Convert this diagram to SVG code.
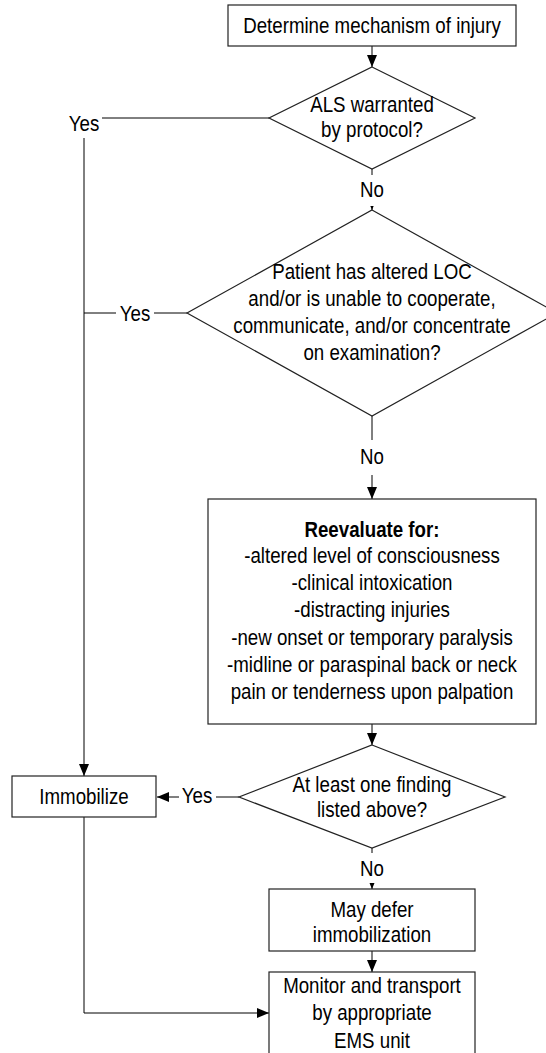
<svg xmlns="http://www.w3.org/2000/svg" width="546" height="1053" viewBox="0 0 546 1053">
<style>
text{font-family:"Liberation Sans",Arial,sans-serif;font-size:22px;fill:#000;text-anchor:middle}
.b{font-weight:bold}
.box{fill:#fff;stroke:#222;stroke-width:1.2}
.ln{fill:none;stroke:#000;stroke-width:1}
.bg{fill:#fff;stroke:none}
</style>
<defs>
<marker id="ah" markerUnits="userSpaceOnUse" markerWidth="12" markerHeight="10" refX="12" refY="5" orient="auto" viewBox="0 0 12 10">
<path d="M0,0 L12,5 L0,10 z" fill="#000"/>
</marker>
</defs>
<rect width="546" height="1053" fill="#fff"/>
<g id="connectors">
<path class="ln" d="M372,46 V67" marker-end="url(#ah)"/>
<path class="ln" d="M372,169 V210" marker-end="url(#ah)"/>
<path class="ln" d="M269,118 H84 V776" marker-end="url(#ah)"/>
<path class="ln" d="M187,313 H84"/>
<path class="ln" d="M372,416 V499" marker-end="url(#ah)"/>
<path class="ln" d="M372,724 V745" marker-end="url(#ah)"/>
<path class="ln" d="M239,797 H157" marker-end="url(#ah)"/>
<path class="ln" d="M372,848 V889" marker-end="url(#ah)"/>
<path class="ln" d="M372,951 V972" marker-end="url(#ah)"/>
<path class="ln" d="M84,817 V1013 H269" marker-end="url(#ah)"/>
<g id="lbl-no1"><rect class="bg" x="358" y="175" width="28" height="31"/><g transform="scale(0.85,1)"><text x="437.65" y="197">No</text></g></g>
<g id="lbl-yes1"><rect class="bg" x="65" y="110" width="37" height="28"/><g transform="scale(0.85,1)"><text x="98.82" y="131">Yes</text></g></g>
<g id="lbl-yes2"><rect class="bg" x="116" y="302" width="38" height="22"/><g transform="scale(0.85,1)"><text x="158.82" y="321">Yes</text></g></g>
<g id="lbl-no2"><rect class="bg" x="358" y="440" width="28" height="35"/><g transform="scale(0.85,1)"><text x="437.65" y="464">No</text></g></g>
<g id="lbl-yes3"><rect class="bg" x="179" y="785" width="37" height="24"/><g transform="scale(0.85,1)"><text x="231.76" y="803">Yes</text></g></g>
<g id="lbl-no3"><rect class="bg" x="358" y="853" width="28" height="30"/><g transform="scale(0.85,1)"><text x="437.65" y="876">No</text></g></g>
</g>
<g id="n-start">
<rect class="box" x="228" y="5" width="288" height="41"/>
<g transform="scale(0.85,1)"><text x="437.65" y="33">Determine mechanism of injury</text></g>
</g>
<g id="n-als">
<polygon class="box" points="372,67 475,118 372,169 269,118"/>
<g transform="scale(0.85,1)">
<text x="437.65" y="112">ALS warranted</text>
<text x="437.65" y="137">by protocol?</text>
</g>
</g>
<g id="n-loc">
<polygon class="box" points="372,210 557,313 372,416 187,313"/>
<g transform="scale(0.85,1)">
<text x="437.65" y="279">Patient has altered LOC</text>
<text x="437.65" y="306">and/or is unable to cooperate,</text>
<text x="437.65" y="333">communicate, and/or concentrate</text>
<text x="437.65" y="360">on examination?</text>
</g>
</g>
<g id="n-reeval">
<rect class="box" x="208" y="499" width="328" height="225"/>
<g transform="scale(0.85,1)">
<text class="b" x="437.65" y="537">Reevaluate for:</text>
<text x="437.65" y="563">-altered level of consciousness</text>
<text x="437.65" y="590">-clinical intoxication</text>
<text x="437.65" y="617">-distracting injuries</text>
<text x="437.65" y="645">-new onset or temporary paralysis</text>
<text x="437.65" y="672">-midline or paraspinal back or neck</text>
<text x="437.65" y="699">pain or tenderness upon palpation</text>
</g>
</g>
<g id="n-finding">
<polygon class="box" points="372,745 505,797 372,848 239,797"/>
<g transform="scale(0.85,1)">
<text x="437.65" y="792">At least one finding</text>
<text x="437.65" y="817">listed above?</text>
</g>
</g>
<g id="n-immobilize">
<rect class="box" x="12" y="776" width="144" height="41"/>
<g transform="scale(0.85,1)"><text x="98.82" y="804">Immobilize</text></g>
</g>
<g id="n-defer">
<rect class="box" x="269" y="889" width="206" height="62"/>
<g transform="scale(0.85,1)">
<text x="437.65" y="917">May defer</text>
<text x="437.65" y="942">immobilization</text>
</g>
</g>
<g id="n-monitor">
<rect class="box" x="269" y="972" width="206" height="100"/>
<g transform="scale(0.85,1)">
<text x="437.65" y="993">Monitor and transport</text>
<text x="437.65" y="1020">by appropriate</text>
<text x="437.65" y="1048">EMS unit</text>
</g>
</g>
</svg>
